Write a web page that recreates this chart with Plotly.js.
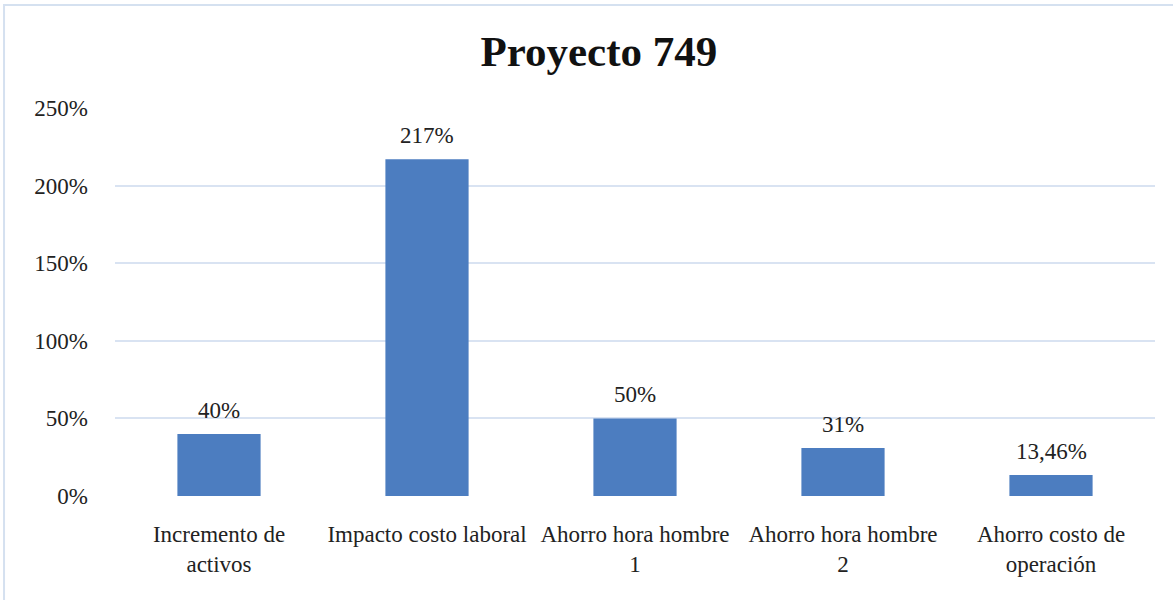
<!DOCTYPE html>
<html>
<head>
<meta charset="utf-8">
<script src="https://cdn.plot.ly/plotly-3.0.1.min.js"></script>
<style>html,body{margin:0;padding:0;background:#fff;}#chart{width:1173px;height:600px;}</style>
</head>
<body>
<div id="chart"></div>
<script>
const categories = ["Incremento de<br>activos", "Impacto costo laboral", "Ahorro hora hombre<br>1", "Ahorro hora hombre<br>2", "Ahorro costo de<br>operación"];
const values = [40, 217, 50, 31, 13.46];
const valueLabels = ["40%", "217%", "50%", "31%", "13,46%"];
const tickVals = [0, 50, 100, 150, 200, 250];
const tickText = ["0%", "50%", "100%", "150%", "200%", "250%"];

const font = "Liberation Serif, Times New Roman, serif";
const trace = {
  type: "bar",
  x: categories,
  y: values,
  marker: {color: "#4c7dc0", line: {width: 0}},
  hoverinfo: "none"
};
const annotations = categories.map((c, i) => ({
  x: c, y: values[i], xref: "x", yref: "y", text: valueLabels[i], showarrow: false,
  yanchor: "bottom", yshift: 9, font: {family: font, size: 23, color: "#222"}
}));
const layout = {
  width: 1173, height: 600,
  margin: {l: 115, r: 18, t: 108, b: 104},
  paper_bgcolor: "#fff", plot_bgcolor: "#fff",
  bargap: 0.6,
  showlegend: false,
  title: {text: "<b>Proyecto 749</b>", font: {family: font, size: 43, color: "#111"}, x: 0.5105, xanchor: "center", y: 0.915, yanchor: "middle"},
  xaxis: {tickfont: {family: font, size: 23, color: "#222"}, showgrid: false, showline: false, zeroline: false, ticks: "", ticklabelstandoff: 22, fixedrange: true},
  yaxis: {range: [0, 250], tickvals: tickVals, ticktext: tickText, tickfont: {family: font, size: 23, color: "#222"},
          showgrid: true, gridcolor: "#d9e3f2", gridwidth: 2, zeroline: false, showline: false, ticks: "", ticklabelstandoff: 26, fixedrange: true},
  annotations: annotations,
  shapes: [{type: "rect", xref: "paper", yref: "paper", x0: -0.1067, x1: 1.3, y0: -0.3, y1: 1.2655, line: {color: "#d5e1f0", width: 2}, fillcolor: "rgba(0,0,0,0)", layer: "below"}]
};
Plotly.newPlot("chart", [trace], layout, {displayModeBar: false, staticPlot: true});
</script>
</body>
</html>
